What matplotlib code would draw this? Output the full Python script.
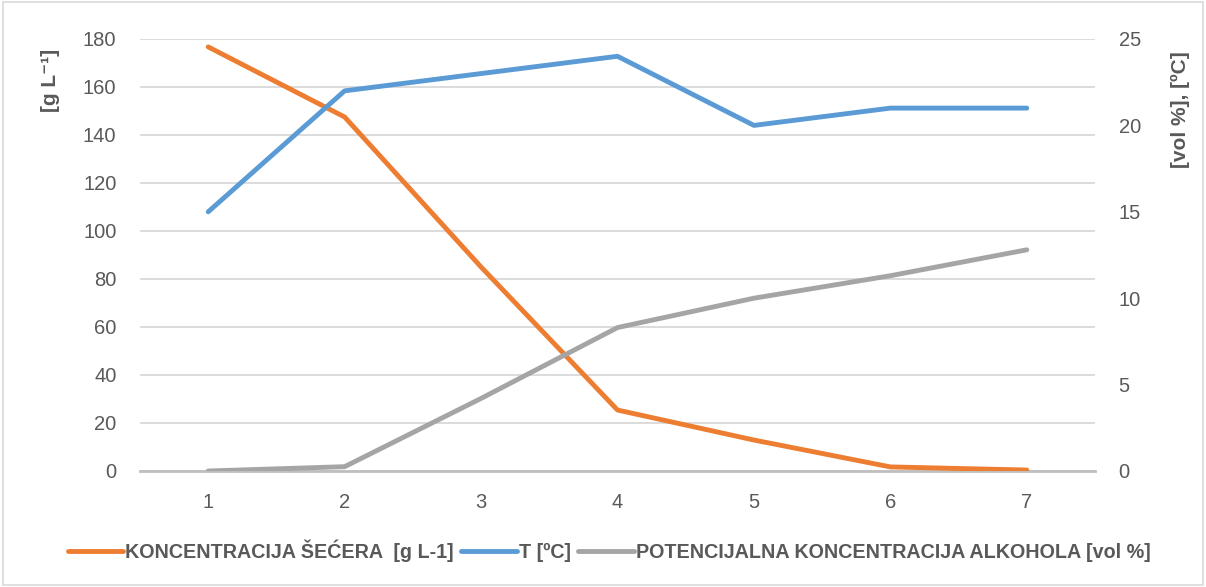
import matplotlib.pyplot as plt
from matplotlib.patches import Rectangle

days = [1, 2, 3, 4, 5, 6, 7]
sugar = [176.7, 147.5, 85.0, 25.4, 12.9, 1.7, 0.4]
temp = [15.0, 22.0, 23.0, 24.0, 20.0, 21.0, 21.0]
alcohol = [0.0, 0.25, 4.2, 8.3, 10.0, 11.3, 12.8]

left_ticks = [0, 20, 40, 60, 80, 100, 120, 140, 160, 180]
right_ticks = [0, 5, 10, 15, 20, 25]

orange = '#ED7D31'
blue = '#5B9BD5'
gray = '#A5A5A5'
txt = '#595959'

plt.rcParams['font.family'] = ['Liberation Sans', 'DejaVu Sans']

fig = plt.figure(figsize=(12.06, 5.87), dpi=100)
ax = fig.add_axes([140 / 1206, 1 - 471 / 587, (1095 - 140) / 1206, (471 - 39) / 587])
ax2 = ax.twinx()

ax.set_xlim(0.5, 7.5)
ax.set_ylim(0, 180)
ax2.set_ylim(0, 25)
ax.set_yticks(left_ticks)
ax2.set_yticks(right_ticks)
ax.set_xticks(days)

ax.grid(axis='y', color='#D9D9D9', linewidth=1.3)
ax.set_axisbelow(True)
for a in (ax, ax2):
    for s in a.spines.values():
        s.set_visible(False)
    a.tick_params(length=0, labelsize=14.5, colors=txt)
ax.spines['bottom'].set_visible(True)
ax.spines['bottom'].set_color('#BFBFBF')
ax.spines['bottom'].set_linewidth(2)
ax.tick_params(axis='y', pad=17)
ax2.tick_params(axis='y', pad=17)
ax.tick_params(axis='x', pad=16)

l1, = ax.plot(days, sugar, color=orange, lw=3.5, solid_capstyle='round',
              label='KONCENTRACIJA ŠEĆERA  [g L-1]', zorder=3)
l2, = ax2.plot(days, temp, color=blue, lw=3.5, solid_capstyle='round',
               label='T [ºC]', zorder=3)
l3, = ax2.plot(days, alcohol, color=gray, lw=3.5, solid_capstyle='round',
               label='POTENCIJALNA KONCENTRACIJA ALKOHOLA [vol %]', zorder=2)

ax.set_ylabel('[g L⁻¹]', fontsize=15, fontweight='bold', color=txt)
ax2.set_ylabel('[vol %], [ºC]', fontsize=15, fontweight='bold', color=txt)
ax.yaxis.set_label_coords(-0.084, 0.905)
ax2.yaxis.set_label_coords(1.08, 0.836)

fig.legend(handles=[l1, l2, l3], loc='center', bbox_to_anchor=(0.505, 1 - 551 / 587),
           ncol=3, frameon=False, handlelength=2.8, handletextpad=0.1,
           columnspacing=0.4, prop={'weight': 'bold', 'size': 14.2},
           labelcolor=txt)

fig.patches.append(Rectangle((0.0025, 0.003), 0.995, 0.994, transform=fig.transFigure,
                             fill=False, edgecolor='#D9D9D9', lw=1.2))

fig.savefig('out.png', dpi=100)
